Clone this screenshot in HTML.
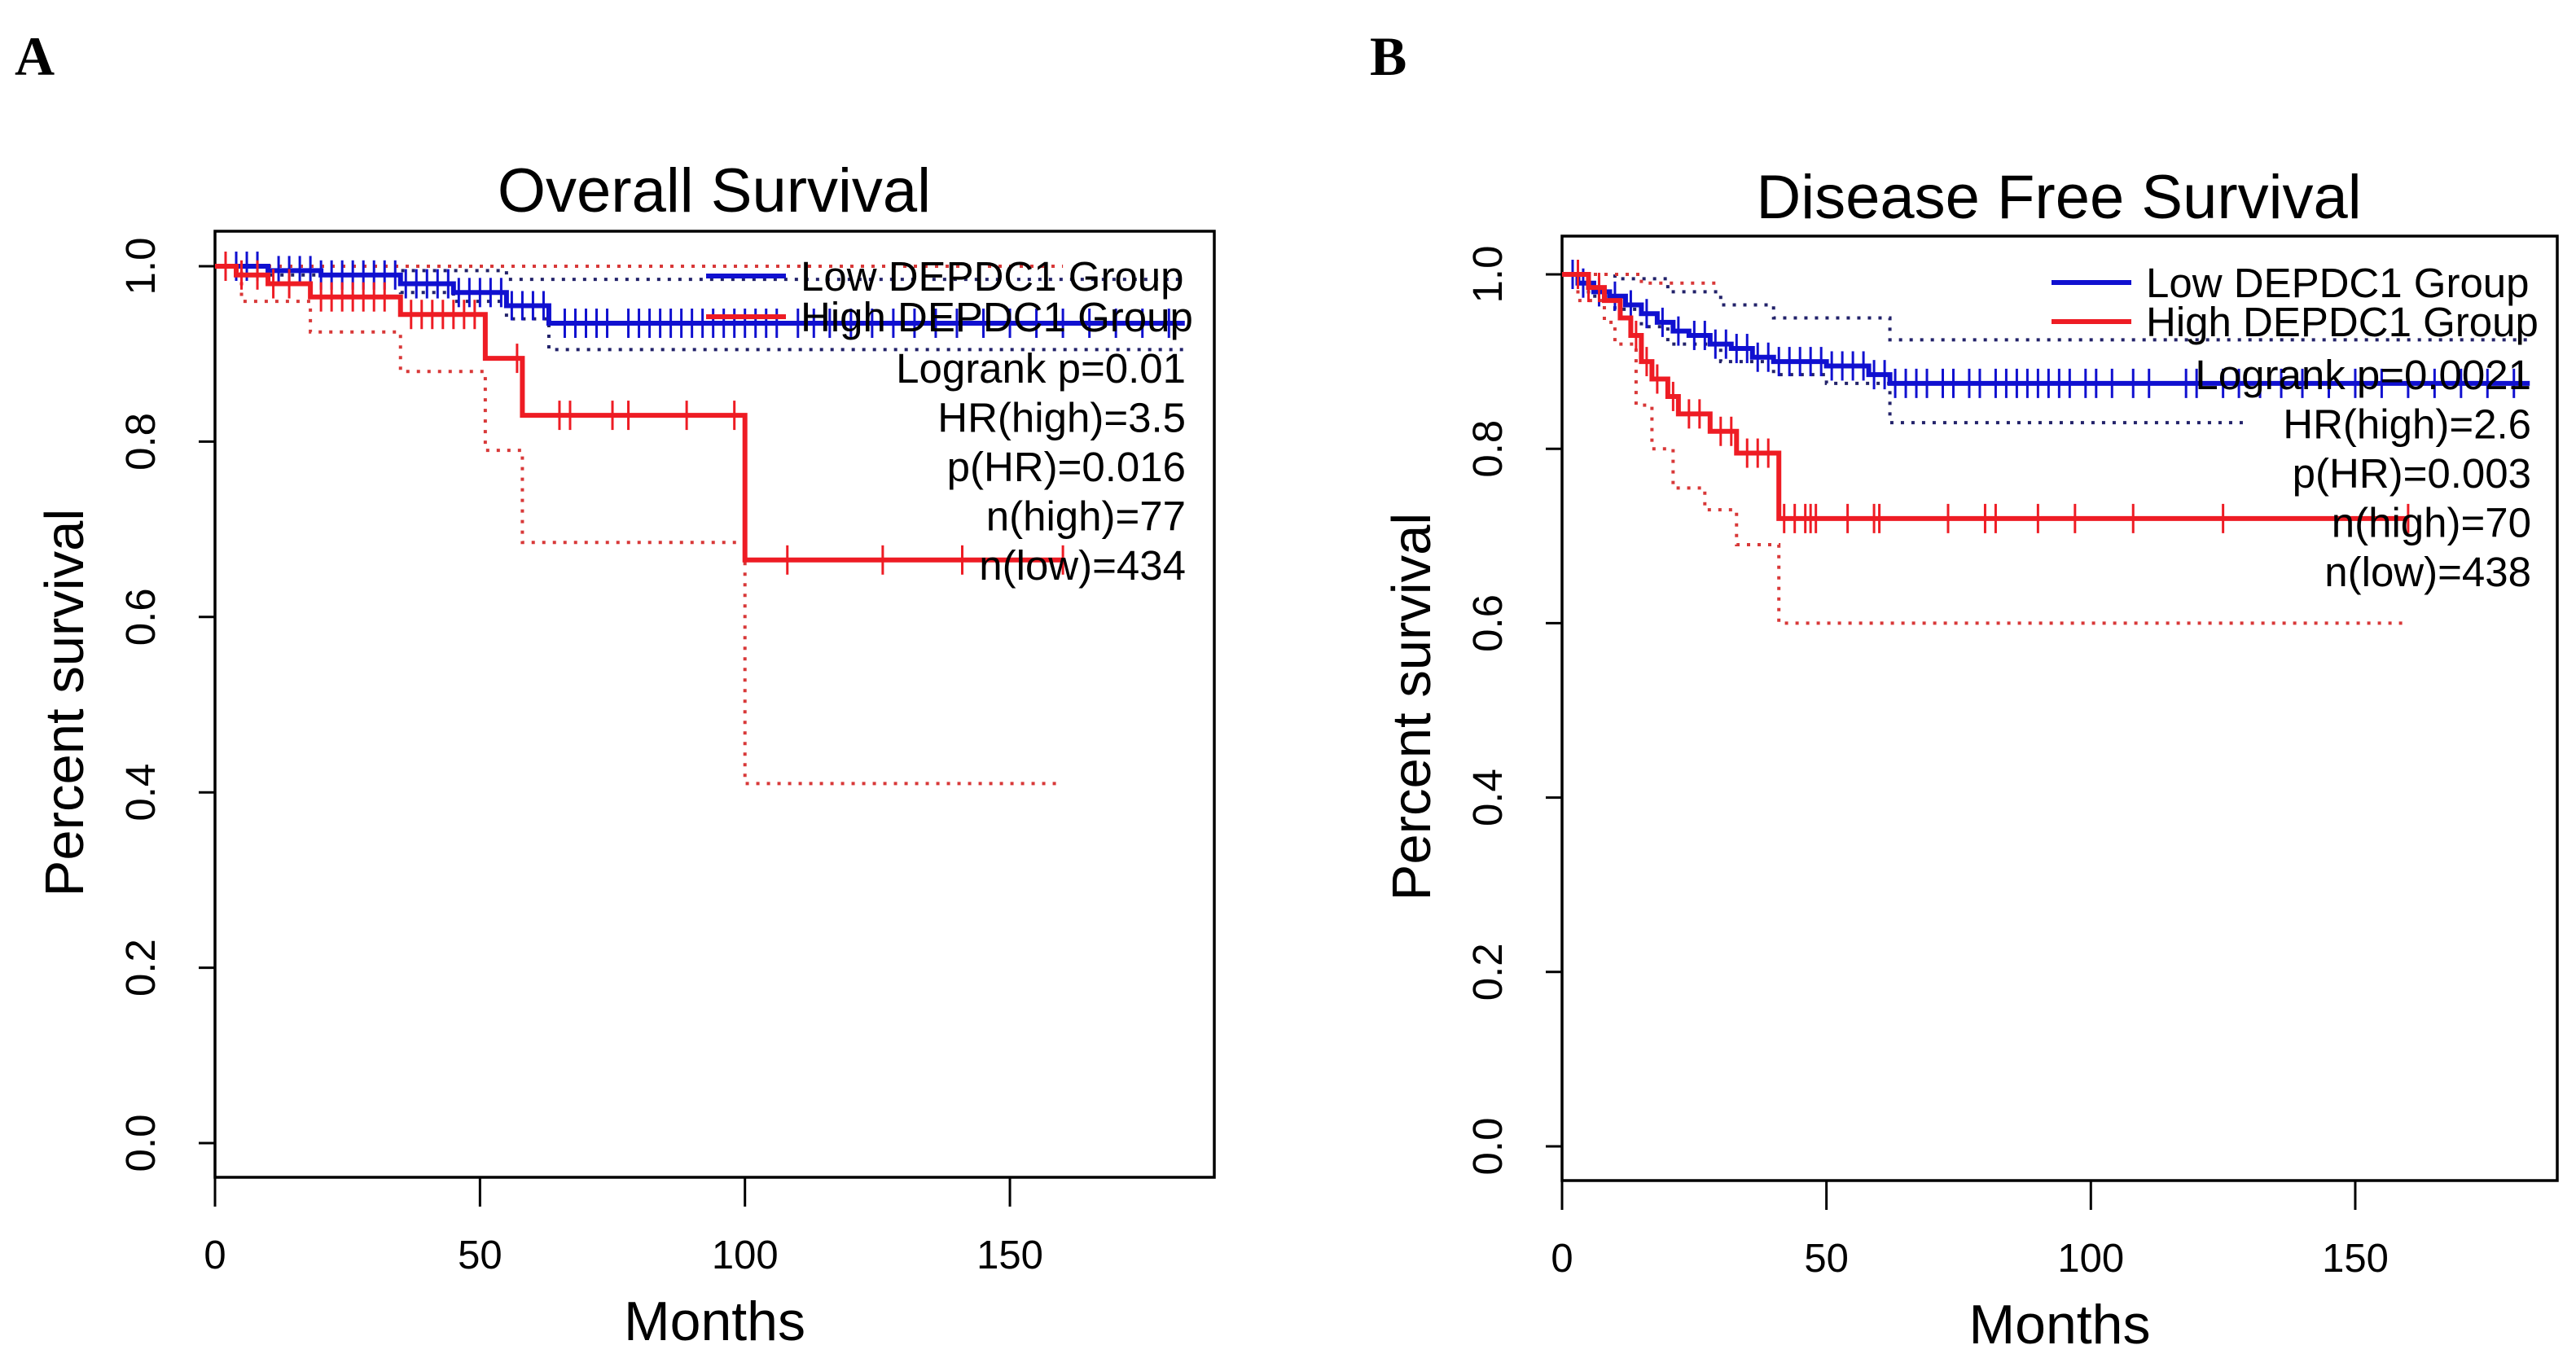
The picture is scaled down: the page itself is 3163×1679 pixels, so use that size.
<!DOCTYPE html>
<html><head><meta charset="utf-8"><style>
html,body{margin:0;padding:0;background:#fff;}
svg{display:block;font-family:"Liberation Sans",Arial,sans-serif;}
</style></head><body>
<svg id="fig" width="3163" height="1679" viewBox="0 0 3163 1679" xmlns="http://www.w3.org/2000/svg">
<rect width="3163" height="1679" fill="#fff"/>
<text x="18" y="92" font-family="Liberation Serif" font-weight="bold" font-size="68">A</text>
<text x="1682" y="92" font-family="Liberation Serif" font-weight="bold" font-size="68">B</text>
<g id="pa"></g>
<g id="pb"></g>
</svg>
<script>
// ---- Panel A data (Overall Survival) ----
const aLowTimes=[0,10,20,35,45,55,63];
const aLowSurv=[1.0,0.995,0.99,0.98,0.97,0.955,0.935];
const aLowEnd=183;
const aLowCens=[2,4,6,8,12,14,16,18,20,22,24,26,28,30,32,34,36,38,40,42,44,46,48,50,52,54,56,58,60,62,66,68,70,72,74,78,80,82,84,86,88,90,92,94,96,98,100,102,104,106,110,113,116,120,124,128,132,136,140,145,150,155,160,165,170,175,180];
const aLowUpT=[0,35,55]; const aLowUpV=[1.0,0.995,0.985];
const aLowLoT=[0,10,35,45,55,63]; const aLowLoV=[1.0,0.99,0.97,0.96,0.94,0.905];
const aHighTimes=[0,4,10,18,35,51,58,100];
const aHighSurv=[1.0,0.99,0.98,0.965,0.945,0.895,0.83,0.665];
const aHighEnd=160;
const aHighCens=[2,5,8,11,14,20,22,24,26,28,30,32,37,39,41,43,45,47,49,57,65,67,75,78,89,98,108,126,141,160];
const aHighUpT=[0]; const aHighUpV=[1.0];
const aHighLoT=[0,5,18,35,51,58,100]; const aHighLoV=[1.0,0.96,0.925,0.88,0.79,0.685,0.41];
const aStats=["Logrank p=0.01","HR(high)=3.5","p(HR)=0.016","n(high)=77","n(low)=434"];
// ---- Panel B data (Disease Free Survival) ----
const bLowTimes=[0,3,6,9,12,15,18,21,24,28,32,36,40,50,58,62];
const bLowSurv=[1,0.99,0.98,0.975,0.965,0.955,0.945,0.935,0.93,0.92,0.915,0.905,0.9,0.895,0.885,0.875];
const bLowEnd=183;
const bLowCens=[2,4,7,10,13,16,19,22,25,27,29,31,33,35,37,39,41,43,45,47,49,51,53,55,57,59,61,63,65,67,69,72,74,77,79,82,84,86,88,90,92,94,96,99,101,104,108,111,118,120,125,128,132,136,140,145,150,155,160,165,170,175,180];
const bLowUpT=[0,10,20,30,40,62]; const bLowUpV=[1,0.995,0.98,0.965,0.95,0.925];
const bLowLoT=[0,5,10,15,20,30,40,50,62]; const bLowLoV=[1,0.975,0.96,0.94,0.92,0.9,0.885,0.875,0.83];
const bHighTimes=[0,5,8,11,13,15,17,20,22,28,33,41];
const bHighSurv=[1,0.985,0.97,0.95,0.93,0.9,0.88,0.86,0.84,0.82,0.795,0.72];
const bHighEnd=160;
const bHighCens=[3,5,7,14,16,18,21,24,26,30,32,35,37,39,42,44,46,47,48,54,59,60,73,80,82,90,97,108,125,160];
const bHighUpT=[0,5,15]; const bHighUpV=[1,1,0.99];
const bHighLoT=[0,3,8,10,14,17,21,27,33,41]; const bHighLoV=[1,0.97,0.945,0.92,0.85,0.8,0.755,0.73,0.69,0.6];
const bStats=["Logrank p=0.0021","HR(high)=2.6","p(HR)=0.003","n(high)=70","n(low)=438"];
const xTicks=[0,50,100,150];
const yTicks=[0,0.2,0.4,0.6,0.8,1.0];

const NS="http://www.w3.org/2000/svg";
function mk(parent,tag,attrs){const e=document.createElementNS(NS,tag);for(const k in attrs)e.setAttribute(k,attrs[k]);parent.appendChild(e);return e;}
function stepPath(T,V,end,sx,sy){let d="M"+sx(T[0])+","+sy(V[0]);for(let i=1;i<T.length;i++){d+="H"+sx(T[i])+"V"+sy(V[i]);}d+="H"+sx(end);return d;}
function valAt(T,V,t){let v=V[0];for(let i=0;i<T.length;i++){if(T[i]<=t)v=V[i];}return v;}

function panel(g,cfg){
  const sx=t=>cfg.x0+t*cfg.kx, sy=v=>cfg.y0-v*(cfg.y0-cfg.y1);
  let e;
  e=mk(g,'rect',{x:cfg.L,y:cfg.T,width:cfg.R-cfg.L,height:cfg.B-cfg.T,fill:'none',stroke:'#000','stroke-width':3.5});
  
  
  e=mk(g,'text',{x:cfg.titleX,y:cfg.titleY,'font-size':76,'text-anchor':'middle'});e.textContent=cfg.title;
  
  
  xTicks.forEach(t=>{
    e=mk(g,'line',{x1:sx(t),x2:sx(t),y1:cfg.B,y2:cfg.B+36,stroke:'#000','stroke-width':3});
    
    
    e=mk(g,'text',{x:sx(t),y:cfg.B+112,'font-size':49,'text-anchor':'middle'});e.textContent=String(t);
    
    
  });
  yTicks.forEach(v=>{
    e=mk(g,'line',{x1:cfg.L-20,x2:cfg.L,y1:sy(v),y2:sy(v),stroke:'#000','stroke-width':3});
    
    
    e=mk(g,'text',{x:0,y:0,'font-size':51,'text-anchor':'middle',transform:`translate(${cfg.L-74},${sy(v)}) rotate(-90)`});e.textContent=v.toFixed(1);
    
    
  });
  e=mk(g,'text',{x:(cfg.L+cfg.R)/2,y:cfg.B+200,'font-size':68,'text-anchor':'middle'});e.textContent="Months";
  
  
  e=mk(g,'text',{x:0,y:0,'font-size':67,'text-anchor':'middle',transform:`translate(${cfg.L-162},${(cfg.T+cfg.B)/2-2}) rotate(-90)`});e.textContent="Percent survival";
  
  
  cfg.ci.forEach(c=>{
    e=mk(g,'path',{d:stepPath(c.t,c.v,c.end,sx,sy),fill:'none',stroke:c.col,'stroke-width':4,'stroke-dasharray':'4 9'});
    
    
  });
  cfg.series.forEach(s=>{
    e=mk(g,'path',{d:stepPath(s.t,s.v,s.end,sx,sy),fill:'none',stroke:s.col,'stroke-width':6});
    
    
    s.cens.forEach(t=>{
      const y=sy(valAt(s.t,s.v,t));
      e=mk(g,'line',{x1:sx(t),x2:sx(t),y1:y-18,y2:y+18,stroke:s.col,'stroke-width':3});
      
      
    });
  });
  const lg=[["Low DEPDC1 Group","#1010d0"],["High DEPDC1 Group","#ee1c24"]];
  lg.forEach((l,i)=>{
    const y=cfg.legY+i*cfg.legDy;
    e=mk(g,'line',{x1:cfg.legX,x2:cfg.legX+98,y1:y,y2:y,stroke:l[1],'stroke-width':6});
    
    
    e=mk(g,'text',{x:cfg.legX+116,y:y+18,'font-size':51});e.textContent=l[0];
    
    
  });
  cfg.stats.forEach((s,i)=>{
    e=mk(g,'text',{x:cfg.statX,y:cfg.statY+i*60.5,'font-size':51,'text-anchor':'end'});e.textContent=s;
    
    
  });
}
const BL="#1010d0",RD="#ee1c24",BLD="#22226a",RDD="#d83838";
panel(document.getElementById('pa'),{L:264,R:1491,T:284,B:1446,x0:264,kx:6.507,y0:1404,y1:327,
  title:"Overall Survival",titleX:877,titleY:260,legX:867,legY:339,legDy:50,statX:1456,statY:470,stats:aStats,
  ci:[{t:aLowUpT,v:aLowUpV,end:aLowEnd,col:BLD},{t:aLowLoT,v:aLowLoV,end:aLowEnd,col:BLD},
      {t:aHighUpT,v:aHighUpV,end:aHighEnd,col:RDD},{t:aHighLoT,v:aHighLoV,end:aHighEnd,col:RDD}],
  series:[{name:'low-group-curve',t:aLowTimes,v:aLowSurv,end:aLowEnd,cens:aLowCens,col:BL},
          {name:'high-group-curve',t:aHighTimes,v:aHighSurv,end:aHighEnd,cens:aHighCens,col:RD}]});
panel(document.getElementById('pb'),{L:1918,R:3140,T:290,B:1450,x0:1918,kx:6.493,y0:1408,y1:337,
  title:"Disease Free Survival",titleX:2528,titleY:268,legX:2519,legY:347,legDy:48,statX:3108,statY:478,stats:bStats,
  ci:[{t:bLowUpT,v:bLowUpV,end:bLowEnd,col:BLD},{t:bLowLoT,v:bLowLoV,end:130,col:BLD},
      {t:bHighUpT,v:bHighUpV,end:30,col:RDD},{t:bHighLoT,v:bHighLoV,end:bHighEnd,col:RDD}],
  series:[{name:'low-group-curve',t:bLowTimes,v:bLowSurv,end:bLowEnd,cens:bLowCens,col:BL},
          {name:'high-group-curve',t:bHighTimes,v:bHighSurv,end:bHighEnd,cens:bHighCens,col:RD}]});
</script>
</body></html>
